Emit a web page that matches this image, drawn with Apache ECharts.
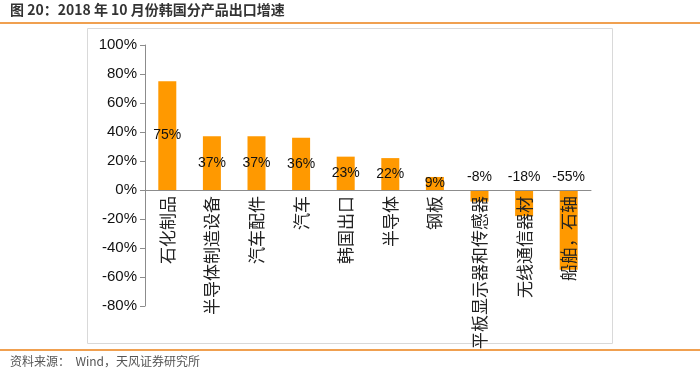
<!DOCTYPE html>
<html>
<head>
<meta charset="utf-8">
<script src="https://cdn.jsdelivr.net/npm/echarts@6/dist/echarts.min.js"></script>
<style>
html, body { margin: 0; padding: 0; background: #fff; }
#main { width: 700px; height: 375px; }
</style>
</head>
<body>
<div id="main"></div>
<script>
// 2018年10月韩国分产品出口增速
var categories = ["石化制品", "半导体制造设备", "汽车配件", "汽车", "韩国出口", "半导体", "钢板", "平板显示器和传感器", "无线通信器材", "船舶，石轴"];
var growth = [75, 37, 37, 36, 23, 22, 9, -8, -18, -55];
var yTicks = { min: -80, max: 100, interval: 20 };

var chart = echarts.init(document.getElementById("main"));
chart.setOption({
    animation: false,
    textStyle: { fontFamily: "Liberation Sans, Noto Sans CJK SC, sans-serif" },
    graphic: [
        {
            type: "text", left: 10, top: 3,
            style: { text: "图 20：2018 年 10 月份韩国分产品出口增速", fontSize: 14, fontWeight: "bold", fill: "#333", fontFamily: "Noto Sans CJK SC" }
        },
        { type: "rect", shape: { x: 0, y: 22, width: 700, height: 2 }, style: { fill: "#f0a050" } },
        { type: "rect", shape: { x: 87.5, y: 28.5, width: 525, height: 315 }, style: { fill: "none", stroke: "#d9d9d9", lineWidth: 1 }, z: -1 },
        { type: "rect", shape: { x: 0, y: 349, width: 700, height: 2 }, style: { fill: "#f0a050" } },
        {
            type: "text", left: 10, top: 355,
            style: { text: "资料来源：  Wind，天风证券研究所", fontSize: 12, fill: "#555", fontFamily: "Noto Sans CJK SC" }
        }
    ],
    grid: { left: 145, right: 109, top: 45, bottom: 69, containLabel: false, outerBoundsMode: "none" },
    xAxis: {
        type: "category",
        data: categories,
        position: "bottom",
        offset: -116,
        axisLine: { onZero: false, lineStyle: { color: "#8c8c8c" } },
        axisTick: { show: false },
        axisLabel: {
            rotate: 90,
            interval: 0,
            fontSize: 17,
            color: "#222",
            fontFamily: "Noto Sans CJK SC",
            margin: 6
        },
        z: 3
    },
    yAxis: {
        type: "value",
        min: yTicks.min,
        max: yTicks.max,
        interval: yTicks.interval,
        axisLine: { show: true, lineStyle: { color: "#8c8c8c" } },
        axisTick: { show: true, length: 5, lineStyle: { color: "#8c8c8c" } },
        splitLine: { show: false },
        axisLabel: { formatter: "{value}%", fontSize: 15, color: "#111", margin: 8 }
    },
    series: [{
        type: "bar",
        data: growth.map(function (v) {
            return {
                value: v,
                label: v >= 0 ? { position: "inside" } : { position: "top", distance: 6 }
            };
        }),
        barWidth: 18,
        itemStyle: { color: "#ff9900" },
        label: {
            show: true,
            formatter: "{c}%",
            fontSize: 14,
            color: "#111"
        },
        z: 1
    }]
});
</script>
</body>
</html>
